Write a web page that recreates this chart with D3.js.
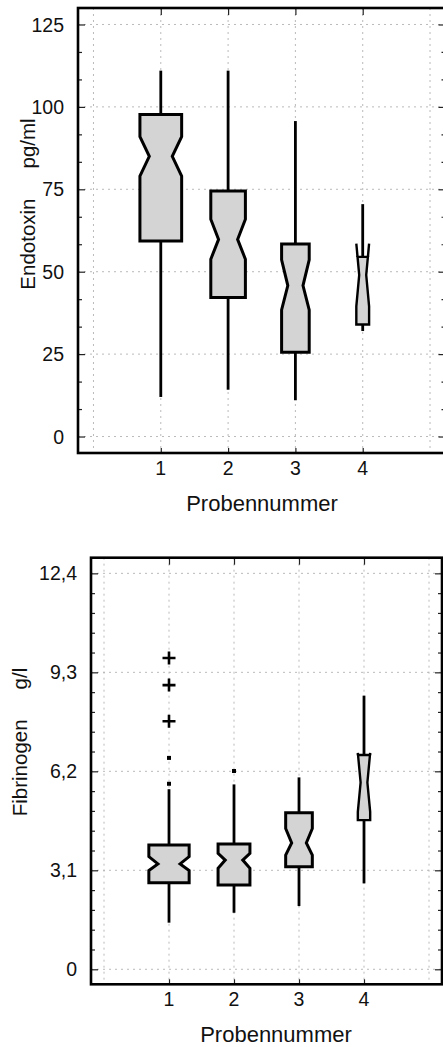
<!DOCTYPE html>
<html><head><meta charset="utf-8">
<script src="https://cdn.jsdelivr.net/npm/d3@7"></script>
<style>
html,body{margin:0;padding:0;background:#fff;}
text{font-family:"Liberation Sans",Arial,sans-serif;fill:#111;}
</style></head>
<body>
<script>
// ---------- data ----------
const groups = [1, 2, 3, 4];
const xTickLabels = ["1", "2", "3", "4"];

// Endotoxin (pg/ml)
const endoTicks = [0, 25, 50, 75, 100, 125];
const endoTickLabels = ["0", "25", "50", "75", "100", "125"];
const endoWhiskerLow  = [12, 14.2, 11, 32];
const endoQ1          = [59.3, 42.2, 25.6, 34];
const endoNotchLow    = [79, 53.8, 38.4, 39.5];
const endoMedian      = [85, 59.8, 45.8, 49];
const endoNotchHigh   = [91, 65.9, 53.6, 58.5];
const endoQ3          = [97.7, 74.5, 58.4, 54.5];
const endoWhiskerHigh = [111, 111, 95.7, 70.5];
const endoN           = [32, 22, 14, 3];

// Fibrinogen (g/l)
const fibTicks = [0, 3.1, 6.2, 9.3, 12.4];
const fibTickLabels = ["0", "3,1", "6,2", "9,3", "12,4"];
const fibWhiskerLow  = [1.46, 1.77, 1.98, 2.69];
const fibQ1          = [2.71, 2.64, 3.21, 4.67];
const fibNotchLow    = [3.09, 3.16, 3.58, 4.93];
const fibMedian      = [3.30, 3.42, 3.96, 5.85];
const fibNotchHigh   = [3.53, 3.63, 4.41, 6.78];
const fibQ3          = [3.89, 3.92, 4.90, 6.71];
const fibWhiskerHigh = [5.64, 5.79, 6.01, 8.57];
const fibN           = [32, 20, 14, 3];
const fibOutlierGroup = [1, 1, 2];          // near outliers (dots)
const fibOutlierValue = [5.81, 6.62, 6.21];
const fibFarGroup     = [1, 1, 1];          // far outliers (+)
const fibFarValue     = [7.77, 8.9, 9.75];

// ---------- drawing ----------
const svg = d3.select("body").append("svg").attr("width", 443).attr("height", 1047);

function buildBoxes(arr) {
  return groups.map((g, i) => ({g, wl: arr[0][i], q1: arr[1][i], nl: arr[2][i], med: arr[3][i],
    nh: arr[4][i], q3: arr[5][i], wh: arr[6][i], n: arr[7][i]}));
}

function drawChart(cfg) {
  const g = svg.append("g");
  const x = d3.scaleLinear().domain(cfg.xDomain).range([cfg.left, cfg.right]);
  const y = d3.scaleLinear().domain(cfg.yDomain).range([cfg.bottom, cfg.top]);
  const spacing = x(1) - x(0);
  const maxN = d3.max(cfg.boxes, d => d.n);
  const halfW = d => 0.31 * spacing * Math.sqrt(d.n / maxN);

  // grid
  const grid = g.append("g").attr("stroke", "#a8a8a8").attr("stroke-width", 0.8).attr("stroke-dasharray", "2,4");
  cfg.yTicks.forEach(t => grid.append("line").attr("x1", cfg.left).attr("x2", Math.min(cfg.right, 443)).attr("y1", y(t)).attr("y2", y(t)));
  [0, 1, 2, 3, 4, 5].forEach(t => grid.append("line").attr("x1", x(t)).attr("x2", x(t)).attr("y1", cfg.top).attr("y2", cfg.bottom));

  // axes via d3.axis (inner ticks)
  const minor = [];
  for (let i = 0; i < cfg.yTicks.length - 1; i++) {
    const a = cfg.yTicks[i], b = cfg.yTicks[i + 1];
    for (let k = 1; k < cfg.minorDiv; k++) minor.push(a + (b - a) * k / cfg.minorDiv);
  }
  g.append("g").attr("transform", `translate(${cfg.left},0)`)
    .call(d3.axisRight(y).tickValues(cfg.yTicks).tickSize(7).tickFormat(""));
  g.append("g").attr("transform", `translate(${cfg.left},0)`)
    .call(d3.axisRight(y).tickValues(minor).tickSize(4).tickFormat(""));
  g.append("g").attr("transform", `translate(${cfg.right},0)`)
    .call(d3.axisLeft(y).tickValues(cfg.yTicks).tickSize(7).tickFormat(""));
  g.append("g").attr("transform", `translate(${cfg.right},0)`)
    .call(d3.axisLeft(y).tickValues(minor).tickSize(4).tickFormat(""));
  g.append("g").attr("transform", `translate(0,${cfg.bottom})`)
    .call(d3.axisTop(x).tickValues(groups).tickSize(5).tickFormat(""));
  g.append("g").attr("transform", `translate(0,${cfg.top})`)
    .call(d3.axisBottom(x).tickValues(groups).tickSize(7).tickFormat(""));
  g.selectAll(".domain").remove();
  g.selectAll(".tick line").attr("stroke", "#222").attr("stroke-width", 1.2);

  // frame
  g.append("rect").attr("x", cfg.left).attr("y", cfg.top)
    .attr("width", cfg.right - cfg.left).attr("height", cfg.bottom - cfg.top)
    .attr("fill", "none").attr("stroke", "#000").attr("stroke-width", 2.6);

  // tick labels
  cfg.yTicks.forEach((t, i) => g.append("text").attr("x", cfg.left - 14).attr("y", y(t)).attr("dy", "0.36em")
    .attr("text-anchor", "end").attr("font-size", 19.5).text(cfg.yTickLabels[i]));
  groups.forEach((t, i) => g.append("text").attr("x", x(t)).attr("y", cfg.bottom + 22)
    .attr("text-anchor", "middle").attr("font-size", 19.5).text(xTickLabels[i]));

  // axis titles
  g.append("text").attr("x", cfg.xTitleX).attr("y", cfg.bottom + 58).attr("text-anchor", "middle")
    .attr("font-size", 22).text("Probennummer");
  const yt = g.append("text").attr("transform", `translate(${cfg.yTitleX},${cfg.yTitleY}) rotate(-90)`)
    .attr("text-anchor", "middle").attr("font-size", 20.5);
  yt.append("tspan").text(cfg.yTitle[0]);
  yt.append("tspan").attr("dx", 30).text(cfg.yTitle[1]);

  // boxes
  cfg.boxes.forEach(d => {
    const cx = x(d.g), hw = halfW(d), L = cx - hw, R = cx + hw;
    const wl = cx - hw * 0.55, wr = cx + hw * 0.55;
    const sw = d.n < 5 ? 2.4 : 3;
    g.append("line").attr("x1", cx).attr("x2", cx).attr("y1", y(d.wl)).attr("y2", y(d.q1))
      .attr("stroke", "#000").attr("stroke-width", 2.8);
    g.append("line").attr("x1", cx).attr("x2", cx).attr("y1", y(d.q3)).attr("y2", y(d.wh))
      .attr("stroke", "#000").attr("stroke-width", 2.8);
    let pts;
    const ears = [];
    if (d.nh <= d.q3) {
      pts = [[L, d.q1], [L, d.nl], [wl, d.med], [L, d.nh], [L, d.q3], [R, d.q3], [R, d.nh], [wr, d.med], [R, d.nl], [R, d.q1]];
    } else {
      const f = (d.q3 - d.med) / (d.nh - d.med);
      const xl = wl + (L - wl) * f, xr = wr + (R - wr) * f;
      pts = [[L, d.q1], [L, d.nl], [wl, d.med], [xl, d.q3], [xr, d.q3], [wr, d.med], [R, d.nl], [R, d.q1]];
      ears.push([[xl, d.q3], [L, d.nh]], [[xr, d.q3], [R, d.nh]]);
    }
    const line = d3.line().x(p => p[0]).y(p => y(p[1]));
    g.append("path").attr("d", line(pts) + "Z").attr("fill", "#d4d4d4")
      .attr("stroke", "#000").attr("stroke-width", sw).attr("stroke-linejoin", "miter");
    ears.forEach(e => g.append("path").attr("d", line(e)).attr("fill", "none")
      .attr("stroke", "#000").attr("stroke-width", sw));
  });

  // outliers
  (cfg.dots || []).forEach(o => g.append("rect").attr("x", x(o.g) - 2).attr("y", y(o.v) - 2)
    .attr("width", 4).attr("height", 4).attr("fill", "#000"));
  (cfg.plus || []).forEach(o => {
    g.append("path").attr("d", `M${x(o.g) - 6.5},${y(o.v)}H${x(o.g) + 6.5}M${x(o.g)},${y(o.v) - 6.5}V${y(o.v) + 6.5}`)
      .attr("stroke", "#000").attr("stroke-width", 2.6);
  });
}

drawChart({
  left: 78, right: 445.5, top: 8, bottom: 453,
  xDomain: [-0.23, 5.23], yDomain: [-5, 130],
  yTicks: endoTicks, yTickLabels: endoTickLabels, minorDiv: 3,
  xTitleX: 262, yTitleX: 35, yTitleY: 204,
  yTitle: ["Endotoxin", "pg/ml"],
  boxes: buildBoxes([endoWhiskerLow, endoQ1, endoNotchLow, endoMedian, endoNotchHigh, endoQ3, endoWhiskerHigh, endoN])
});

drawChart({
  left: 91, right: 442, top: 557.7, bottom: 984.3,
  xDomain: [-0.2, 5.2], yDomain: [-0.47, 12.89],
  yTicks: fibTicks, yTickLabels: fibTickLabels, minorDiv: 5,
  xTitleX: 276, yTitleX: 27, yTitleY: 742,
  yTitle: ["Fibrinogen", "g/l"],
  boxes: buildBoxes([fibWhiskerLow, fibQ1, fibNotchLow, fibMedian, fibNotchHigh, fibQ3, fibWhiskerHigh, fibN]),
  dots: fibOutlierGroup.map((gr, i) => ({g: gr, v: fibOutlierValue[i]})),
  plus: fibFarGroup.map((gr, i) => ({g: gr, v: fibFarValue[i]}))
});
</script>
</body></html>
